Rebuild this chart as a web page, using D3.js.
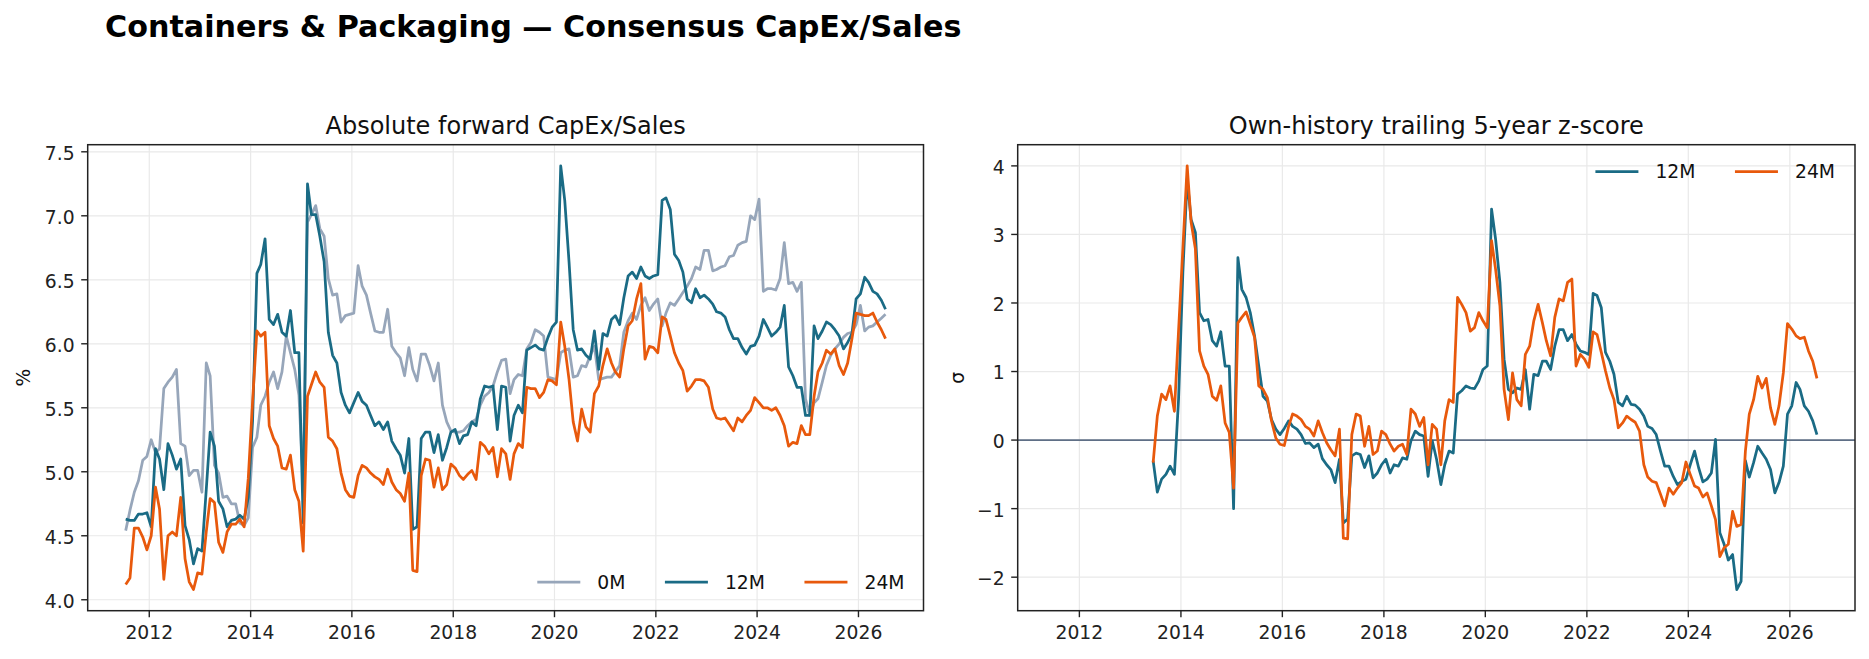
<!DOCTYPE html>
<html><head><meta charset="utf-8">
<script src="https://cdn.jsdelivr.net/npm/d3@7/dist/d3.min.js"></script>
<style>html,body{margin:0;padding:0;background:#fff;}svg{display:block;font-family:"DejaVu Sans",sans-serif;}</style>
</head><body><svg id="chart" width="1869" height="659"></svg>
<script>
// ---------------- data ----------------
const firstMonth = "2011-07-15";           // monthly observations, one per month
const seriesNames = ["0M", "12M", "24M"];
const fwd0M = [4.54,4.70,4.84,4.93,5.09,5.12,5.25,5.15,5.18,5.65,
 5.70,5.74,5.80,5.22,5.20,4.97,5.01,5.01,4.84,5.85,
 5.75,5.05,4.99,4.80,4.81,4.75,4.75,4.60,4.58,4.64,
 5.19,5.27,5.52,5.59,5.70,5.78,5.65,5.78,6.06,5.93,
 5.80,5.60,4.90,6.95,7.01,7.08,6.90,6.84,6.51,6.38,
 6.39,6.17,6.22,6.23,6.24,6.61,6.45,6.38,6.24,6.10,
 6.09,6.09,6.27,5.98,5.93,5.89,5.75,5.97,5.80,5.71,
 5.92,5.92,5.83,5.71,5.85,5.52,5.39,5.32,5.31,5.31,
 5.32,5.36,5.39,5.41,5.52,5.59,5.62,5.67,5.78,5.87,
 5.88,5.61,5.72,5.76,5.75,5.96,6.01,6.11,6.09,6.06,
 5.74,5.73,5.72,5.93,5.95,5.96,5.74,5.75,5.83,5.82,
 5.91,5.98,5.72,5.73,5.74,5.74,5.78,5.83,6.09,6.18,
 6.24,6.19,6.30,6.36,6.26,6.31,6.35,6.14,6.24,6.32,
 6.30,6.35,6.40,6.45,6.51,6.60,6.58,6.73,6.73,6.57,
 6.58,6.60,6.61,6.68,6.69,6.77,6.79,6.80,7.00,6.97,
 7.13,6.41,6.43,6.43,6.42,6.51,6.79,6.47,6.48,6.41,
 6.48,5.57,5.44,5.54,5.57,5.70,5.83,5.91,5.96,6.00,
 6.05,6.08,6.09,6.15,6.30,6.10,6.13,6.14,6.17,6.20,
 6.23];
const fwd12M = [4.63,4.62,4.62,4.67,4.67,4.68,4.57,5.18,5.10,4.86,
 5.22,5.13,5.02,5.10,4.58,4.47,4.28,4.40,4.38,4.86,
 5.31,5.20,4.77,4.71,4.57,4.62,4.63,4.66,4.63,4.80,
 5.40,6.55,6.62,6.82,6.19,6.15,6.23,6.09,6.06,6.26,
 5.93,5.93,4.60,7.25,7.01,7.01,6.84,6.64,6.09,5.91,
 5.85,5.62,5.52,5.46,5.54,5.62,5.55,5.52,5.44,5.36,
 5.39,5.33,5.39,5.24,5.18,5.13,4.99,5.26,4.55,4.57,
 5.26,5.31,5.31,5.15,5.29,5.09,5.19,5.31,5.33,5.22,
 5.28,5.29,5.39,5.36,5.57,5.67,5.66,5.67,5.33,5.67,
 5.66,5.24,5.44,5.52,5.46,5.95,5.97,5.99,5.96,5.95,
 6.05,6.13,6.17,7.39,7.12,6.64,6.11,5.95,5.96,5.91,
 5.88,6.10,5.80,6.08,6.06,6.19,6.22,6.15,6.36,6.53,
 6.56,6.51,6.60,6.53,6.51,6.53,6.54,7.12,7.14,7.05,
 6.70,6.65,6.56,6.35,6.32,6.43,6.36,6.38,6.35,6.31,
 6.25,6.24,6.21,6.11,6.04,6.04,5.97,5.92,5.98,5.99,
 6.06,6.19,6.13,6.06,6.09,6.13,6.30,5.82,5.75,5.66,
 5.66,5.44,5.44,6.14,6.04,6.10,6.17,6.15,6.11,6.06,
 5.96,6.01,6.08,6.35,6.39,6.52,6.48,6.41,6.39,6.34,
 6.27];
const fwd24M = [4.12,4.17,4.56,4.56,4.49,4.39,4.50,4.88,4.71,4.16,
 4.50,4.53,4.50,4.80,4.32,4.14,4.08,4.21,4.20,4.53,
 4.79,4.76,4.45,4.37,4.53,4.59,4.59,4.63,4.57,4.95,
 5.55,6.10,6.06,6.09,5.36,5.26,5.20,5.03,5.02,5.13,
 4.86,4.77,4.38,5.59,5.68,5.78,5.70,5.66,5.27,5.24,
 5.18,4.99,4.86,4.81,4.80,4.97,5.05,5.03,4.99,4.96,
 4.94,4.90,5.02,4.92,4.86,4.83,4.77,4.99,4.23,4.22,
 4.97,5.10,5.09,4.88,5.03,4.86,4.90,5.06,5.03,4.97,
 4.94,4.98,5.01,4.94,5.23,5.20,5.14,5.19,4.96,5.18,
 5.14,4.94,5.14,5.22,5.19,5.66,5.65,5.65,5.58,5.62,
 5.72,5.71,5.68,6.17,5.98,5.72,5.39,5.24,5.49,5.35,
 5.31,5.61,5.67,5.83,5.96,5.85,5.78,5.74,5.96,6.14,
 6.18,6.35,6.47,5.88,5.98,5.97,5.93,6.21,6.19,6.06,
 5.93,5.85,5.79,5.63,5.67,5.72,5.72,5.71,5.66,5.49,
 5.42,5.41,5.42,5.37,5.32,5.42,5.39,5.44,5.48,5.58,
 5.54,5.50,5.50,5.48,5.50,5.44,5.36,5.20,5.23,5.22,
 5.36,5.29,5.29,5.59,5.78,5.85,5.95,5.92,5.96,5.83,
 5.76,5.85,6.04,6.24,6.23,6.22,6.22,6.24,6.17,6.11,
 6.04];
// z-scores start at the 24th monthly observation
const zFirstIndex = 23;
const z12M = [-0.30,-0.76,-0.57,-0.50,-0.38,-0.50,0.60,2.45,3.81,3.22,
 3.03,1.86,1.74,1.76,1.45,1.37,1.58,1.08,1.08,-1.00,
 2.66,2.20,2.08,1.86,1.52,1.08,0.64,0.57,0.30,0.16,
 0.08,0.17,0.28,0.20,0.16,0.08,-0.05,-0.04,-0.11,-0.06,
 -0.27,-0.36,-0.43,-0.62,-0.28,-1.21,-1.15,-0.23,-0.19,-0.21,
 -0.40,-0.23,-0.55,-0.48,-0.36,-0.28,-0.48,-0.36,-0.38,-0.26,
 -0.28,-0.01,0.13,0.08,0.06,-0.53,-0.01,-0.28,-0.65,-0.36,
 -0.16,-0.19,0.67,0.72,0.79,0.76,0.75,0.86,1.03,1.08,
 3.37,2.93,2.30,1.18,0.74,0.69,0.76,0.74,1.03,0.45,
 0.96,0.94,1.15,1.15,1.03,1.37,1.61,1.61,1.45,1.54,
 1.40,1.30,1.28,1.25,2.14,2.11,1.93,1.28,1.15,0.96,
 0.55,0.50,0.64,0.52,0.51,0.45,0.35,0.20,0.17,0.08,
 -0.16,-0.38,-0.38,-0.53,-0.65,-0.60,-0.57,-0.36,-0.16,-0.40,
 -0.61,-0.57,-0.48,0.01,-1.35,-1.52,-1.75,-1.67,-2.18,-2.06,
 -0.30,-0.54,-0.33,-0.09,-0.19,-0.28,-0.43,-0.77,-0.62,-0.38,
 0.38,0.50,0.84,0.74,0.50,0.42,0.28,0.08];
const z24M = [-0.33,0.35,0.67,0.59,0.79,0.42,1.60,2.80,4.00,3.18,
 2.79,1.30,1.08,0.96,0.64,0.58,0.79,0.25,0.11,-0.70,
 1.71,1.79,1.87,1.69,1.50,0.79,0.74,0.62,0.28,0.03,
 -0.06,-0.08,0.20,0.38,0.35,0.30,0.20,0.16,0.06,0.28,
 0.11,-0.04,-0.14,-0.23,0.16,-1.43,-1.44,0.08,0.38,0.35,
 -0.09,0.20,-0.21,-0.16,0.13,0.08,-0.06,-0.16,-0.09,-0.06,
 -0.21,0.45,0.38,0.20,0.33,-0.36,0.23,0.16,-0.36,0.28,
 0.59,0.55,2.08,1.98,1.86,1.59,1.64,1.86,1.74,1.64,
 2.91,2.49,1.96,0.74,0.30,0.98,0.59,0.50,1.25,1.37,
 1.74,1.98,1.71,1.45,1.23,1.79,2.06,2.03,2.30,2.35,
 1.08,1.25,1.18,1.06,1.58,1.54,1.28,1.01,0.76,0.59,
 0.18,0.25,0.35,0.30,0.26,0.13,-0.36,-0.54,-0.60,-0.62,
 -0.79,-0.96,-0.70,-0.79,-0.70,-0.62,-0.32,-0.50,-0.67,-0.70,
 -0.83,-0.77,-0.96,-1.16,-1.70,-1.57,-1.52,-1.04,-1.26,-1.23,
 -0.16,0.38,0.59,0.93,0.76,0.90,0.47,0.23,0.50,0.98,
 1.70,1.62,1.52,1.48,1.50,1.30,1.15,0.90];
const xTickYears = [2012, 2014, 2016, 2018, 2020, 2022, 2024, 2026];
const leftYTicks = [4.0, 4.5, 5.0, 5.5, 6.0, 6.5, 7.0, 7.5];
const rightYTicks = [-2, -1, 0, 1, 2, 3, 4];
const titleText = "Containers & Packaging \u2014 Consensus CapEx/Sales";
const leftTitle = "Absolute forward CapEx/Sales";
const rightTitle = "Own-history trailing 5-year z-score";

// ---------------- drawing ----------------
const svg = d3.select("#chart");
const colors = {"0M": "#97a6ba", "12M": "#1a6b85", "24M": "#e8590c"};
const TICK_FS = 18.75, INK = "#222", LW = 2.75;
const start = d3.timeParse("%Y-%m-%d")(firstMonth);
const dates = fwd0M.map((_, i) => d3.timeMonth.offset(start, i));
const [dA, dB] = d3.extent(dates);
const dPad = (dB - dA) * 0.05;

function padded(arrs) {
  const [a, b] = d3.extent(arrs.flat());
  const p = (b - a) * 0.05;
  return [a - p, b + p];
}

function panel(o) {
  const g = svg.append("g");
  const x = d3.scaleTime().domain([new Date(+dA - dPad), new Date(+dB + dPad)]).range([o.x0, o.x1]);
  const y = d3.scaleLinear().domain(padded(o.series.map(s => s.values))).range([o.y1, o.y0]);
  const xt = xTickYears.map(yr => new Date(yr, 0, 1));
  // grid
  g.append("g").selectAll("line").data(xt).join("line")
    .attr("x1", d => x(d)).attr("x2", d => x(d)).attr("y1", o.y0).attr("y2", o.y1)
    .attr("stroke", "#e9e9e9").attr("stroke-width", 1.2);
  g.append("g").selectAll("line").data(o.yTicks).join("line")
    .attr("x1", o.x0).attr("x2", o.x1).attr("y1", d => y(d)).attr("y2", d => y(d))
    .attr("stroke", "#e9e9e9").attr("stroke-width", 1.2);
  if (o.zeroLine) {
    g.append("line").attr("x1", o.x0).attr("x2", o.x1).attr("y1", y(0)).attr("y2", y(0))
      .attr("stroke", "#5f6f86").attr("stroke-width", 1.6);
  }
  // series
  o.series.forEach(s => {
    const pts = s.values.map((v, i) => [dates[i + s.offset], v]);
    g.append("path").datum(pts)
      .attr("d", d3.line().x(d => x(d[0])).y(d => y(d[1])))
      .attr("fill", "none").attr("stroke", colors[s.name]).attr("stroke-width", LW)
      .attr("stroke-linejoin", "round");
  });
  // spines
  g.append("rect").attr("x", o.x0).attr("y", o.y0).attr("width", o.x1 - o.x0).attr("height", o.y1 - o.y0)
    .attr("fill", "none").attr("stroke", INK).attr("stroke-width", 1.5);
  // ticks
  g.append("g").selectAll("line").data(xt).join("line")
    .attr("x1", d => x(d)).attr("x2", d => x(d)).attr("y1", o.y1).attr("y2", o.y1 + 6.5)
    .attr("stroke", INK).attr("stroke-width", 1.4);
  g.append("g").selectAll("text").data(xt).join("text")
    .attr("x", d => x(d)).attr("y", o.y1 + 27.8).attr("text-anchor", "middle")
    .attr("font-size", TICK_FS).attr("fill", INK).text(d => d.getFullYear());
  g.append("g").selectAll("line").data(o.yTicks).join("line")
    .attr("x1", o.x0 - 6.5).attr("x2", o.x0).attr("y1", d => y(d)).attr("y2", d => y(d))
    .attr("stroke", INK).attr("stroke-width", 1.4);
  g.append("g").selectAll("text").data(o.yTicks).join("text")
    .attr("x", o.x0 - 13).attr("y", d => y(d)).attr("dy", "0.42em").attr("text-anchor", "end")
    .attr("font-size", TICK_FS).attr("fill", INK).text(o.fmt);
  // titles
  g.append("text").attr("x", (o.x0 + o.x1) / 2).attr("y", o.y0 - 11).attr("text-anchor", "middle")
    .attr("font-size", 24).attr("fill", "#111").text(o.title);
  g.append("text").attr("transform", `translate(${o.ylabX},${(o.y0 + o.y1) / 2}) rotate(-90)`)
    .attr("text-anchor", "middle").attr("font-size", TICK_FS).attr("fill", "#111").text(o.ylabel);
  // legend
  const HL = 43, TP = 17, CS = 39.5;
  const lg = g.append("g");
  const names = o.series.map(s => s.name);
  const widths = names.map(n => {
    const t = lg.append("text").attr("font-size", TICK_FS).text(n);
    const w = t.node().getComputedTextLength(); t.remove(); return w;
  });
  let lx = o.x1 - o.legRight - (d3.sum(widths) + names.length * (HL + TP) + (names.length - 1) * CS);
  names.forEach((n, k) => {
    lg.append("line").attr("x1", lx).attr("x2", lx + HL).attr("y1", o.legY).attr("y2", o.legY)
      .attr("stroke", colors[n]).attr("stroke-width", LW);
    lg.append("text").attr("x", lx + HL + TP).attr("y", o.legY).attr("dy", "0.36em")
      .attr("font-size", TICK_FS).attr("fill", "#111").text(n);
    lx += HL + TP + widths[k] + CS;
  });
}

svg.append("text").attr("x", 105).attr("y", 37).attr("font-size", 30.2).attr("font-weight", "bold")
  .attr("fill", "#000").text(titleText);

panel({
  x0: 87.7, x1: 923.5, y0: 144.7, y1: 610.7,
  series: [
    {name: "0M", values: fwd0M, offset: 0},
    {name: "12M", values: fwd12M, offset: 0},
    {name: "24M", values: fwd24M, offset: 0}],
  yTicks: leftYTicks, fmt: d3.format(".1f"), title: leftTitle, ylabel: "%", ylabX: 30,
  legY: 582, legRight: 19
});
panel({
  x0: 1017.7, x1: 1855, y0: 144.7, y1: 610.7,
  series: [
    {name: "12M", values: z12M, offset: zFirstIndex},
    {name: "24M", values: z24M, offset: zFirstIndex}],
  yTicks: rightYTicks, fmt: d => String(d).replace("-", "\u2212"), title: rightTitle, ylabel: "\u03c3", ylabX: 964,
  zeroLine: true, legY: 171.7, legRight: 20
});
</script></body></html>
